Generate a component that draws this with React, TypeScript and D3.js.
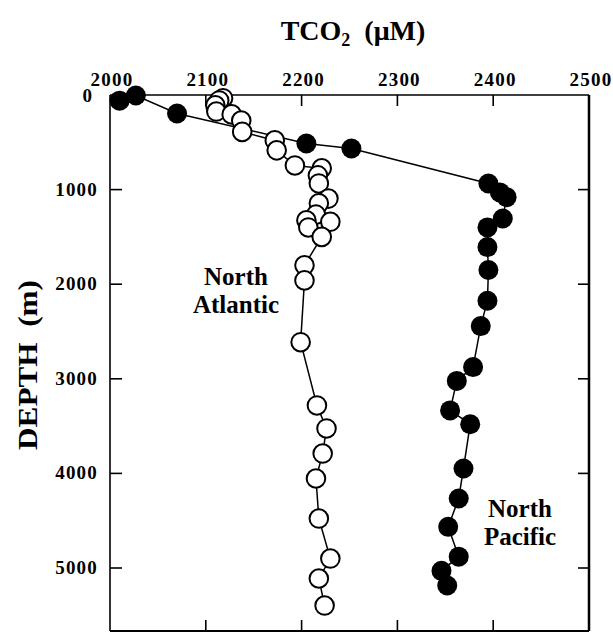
import React from "react";
import * as d3 from "d3";

// North Pacific (filled) : TCO2 (µM), depth (m)
const pacificTCO2 = [2010, 2027, 2070, 2205, 2252, 2395, 2407, 2414, 2410, 2394, 2394, 2395, 2394, 2387, 2379, 2362, 2355, 2376, 2369, 2364, 2353, 2364, 2346, 2352];
const pacificDepth = [60, 5, 195, 513, 566, 935, 1030, 1080, 1305, 1400, 1608, 1850, 2175, 2443, 2876, 3022, 3334, 3480, 3948, 4265, 4565, 4880, 5030, 5185];

// North Atlantic (open)
const atlanticTCO2 = [2118, 2114, 2110, 2111, 2127, 2137, 2138, 2172, 2174, 2193, 2221, 2217, 2218, 2228, 2218, 2215, 2230, 2205, 2207, 2221, 2203, 2203, 2199, 2216, 2226, 2222, 2215, 2218, 2230, 2218, 2224];
const atlanticDepth = [34, 58, 110, 175, 205, 270, 390, 480, 585, 745, 775, 850, 935, 1095, 1145, 1265, 1340, 1325, 1400, 1500, 1800, 1960, 2613, 3282, 3525, 3790, 4054, 4477, 4900, 5111, 5397];

const xTicks = [2000, 2100, 2200, 2300, 2400, 2500];
const yTicks = [0, 1000, 2000, 3000, 4000, 5000];

export default function App() {
  const left = 110, right = 589, top = 95, bottom = 631;
  const x = d3.scaleLinear().domain([2000, 2500]).range([left, right]);
  const y = d3.scaleLinear().domain([0, 5666]).range([top, bottom]);
  const line = d3.line<[number, number]>().x(d => x(d[0])).y(d => y(d[1]));
  const pac: [number, number][] = pacificTCO2.map((v, i) => [v, pacificDepth[i]]);
  const atl: [number, number][] = atlanticTCO2.map((v, i) => [v, atlanticDepth[i]]);
  const font = "'Liberation Serif', 'DejaVu Serif', serif";
  return (
    <svg width={613} height={644} style={{ position: "absolute", left: 0, top: 0, background: "#fff" }} fontFamily={font}>
      <rect x={0} y={0} width={613} height={644} fill="#fff" />
      {/* title */}
      <text x={353} y={40} textAnchor="middle" fontSize={28} fontWeight="bold">
        TCO<tspan fontSize={18} dy={6}>2</tspan><tspan dy={-6}>{"\u00A0\u00A0(\u03BCM)"}</tspan>
      </text>
      <text transform={`translate(37,365) rotate(-90)`} textAnchor="middle" fontSize={27} fontWeight="bold" textLength={170} lengthAdjust="spacingAndGlyphs">
        {"DEPTH\u00A0\u00A0(m)"}
      </text>
      {/* frame */}
      <line x1={left} x2={right} y1={top} y2={top} stroke="#000" strokeWidth={1.3} />
      <line x1={left} x2={left} y1={top} y2={bottom} stroke="#000" strokeWidth={1.6} />
      <line x1={right} x2={right} y1={top} y2={bottom} stroke="#000" strokeWidth={2.5} />
      <line x1={left} x2={right} y1={bottom} y2={bottom} stroke="#000" strokeWidth={2} />
      {/* x ticks */}
      {xTicks.map(t => (
        <g key={"x" + t}>
          {t > 2000 && t < 2500 && <line x1={x(t)} x2={x(t)} y1={top} y2={top + 11} stroke="#000" strokeWidth={1.6} />}
          {t > 2000 && t < 2500 && <line x1={x(t)} x2={x(t)} y1={bottom} y2={bottom - 11} stroke="#000" strokeWidth={1.6} />}
          <text x={x(t) + 2} y={86} textAnchor="middle" fontSize={19} fontWeight="bold" letterSpacing={1.2}>{t}</text>
        </g>
      ))}
      {/* y ticks */}
      {yTicks.map(t => (
        <g key={"y" + t}>
          {t > 0 && <line x1={left} x2={left + 12} y1={y(t)} y2={y(t)} stroke="#000" strokeWidth={1.6} />}
          {t > 0 && <line x1={right} x2={right - 11} y1={y(t)} y2={y(t)} stroke="#000" strokeWidth={1.6} />}
          <text x={t === 0 ? 92 : 98} y={t === 0 ? y(t) + 7 : y(t) + 6} textAnchor="end" fontSize={19} fontWeight="bold" letterSpacing={t === 0 ? 0 : 1.2}>{t}</text>
        </g>
      ))}
      {/* lines */}
      <path d={line(atl) || ""} fill="none" stroke="#000" strokeWidth={1.5} />
      <path d={line(pac) || ""} fill="none" stroke="#000" strokeWidth={1.5} />
      {pac.map((d, i) => (
        <circle key={"p" + i} cx={x(d[0])} cy={y(d[1])} r={10} fill="#000" />
      ))}
      {atl.map((d, i) => (
        <circle key={"a" + i} cx={x(d[0])} cy={y(d[1])} r={9.3} fill="#fff" stroke="#000" strokeWidth={2} />
      ))}
      {/* labels */}
      <text x={236} y={285} textAnchor="middle" fontSize={25} fontWeight="bold">North</text>
      <text x={236} y={313} textAnchor="middle" fontSize={25} fontWeight="bold">Atlantic</text>
      <text x={520} y={517} textAnchor="middle" fontSize={25} fontWeight="bold">North</text>
      <text x={520} y={545} textAnchor="middle" fontSize={25} fontWeight="bold">Pacific</text>
    </svg>
  );
}
